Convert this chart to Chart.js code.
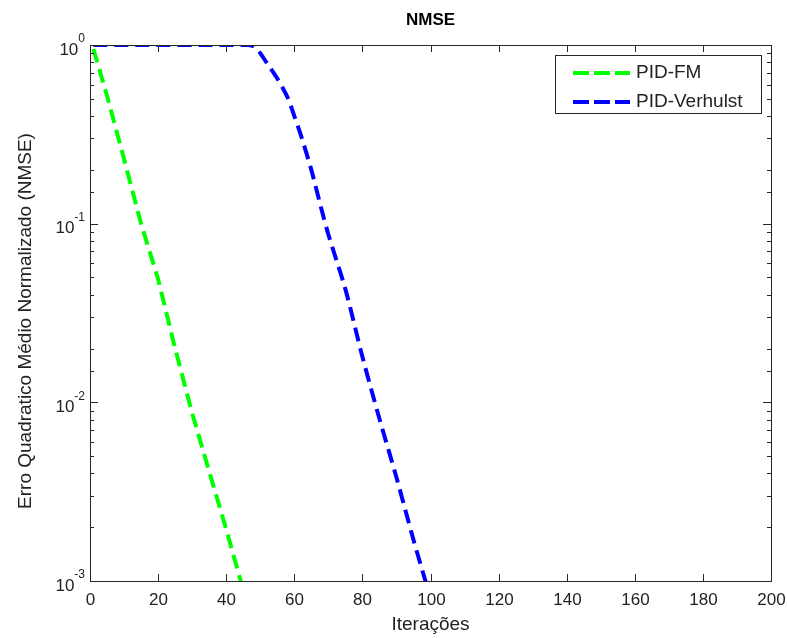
<!DOCTYPE html>
<html>
<head>
<meta charset="utf-8">
<script src="https://cdn.jsdelivr.net/npm/chart.js@4.4.1/dist/chart.umd.min.js"></script>
<style>
    html, body { margin: 0; padding: 0; background: #fff; }
    #wrap { width: 787px; height: 638px; }
</style>
</head>
<body>
<div id="wrap"><canvas id="graficoNmse"></canvas></div>
<script>
// ========== DADOS ==========
const titulo = 'NMSE';
const rotuloX = 'Iterações';
const rotuloY = 'Erro Quadratico Médio Normalizado (NMSE)';
const ticksX = [0, 20, 40, 60, 80, 100, 120, 140, 160, 180, 200];
const expoentesY = [0, -1, -2, -3];

const nomesSeries = ['PID-FM', 'PID-Verhulst'];
const coresSeries = ['#00ff00', '#0000ff'];

const iterFM = [1, 5, 10, 15, 20, 25, 30, 35, 40, 45];
const nmseFM = [0.95, 0.52, 0.23, 0.10, 0.049, 0.020, 0.0087, 0.0041, 0.00195, 0.00089];

const iterVerhulst = [1, 46, 48, 49, 50, 52, 55, 58, 60, 62, 65, 68, 70, 75, 80, 85, 90, 95, 99];
const nmseVerhulst = [1, 1, 0.985, 0.95, 0.90, 0.79, 0.65, 0.51, 0.40, 0.31, 0.20, 0.12, 0.087, 0.043, 0.018, 0.0081, 0.0038, 0.0017, 0.00093];

const fonte = '"Liberation Sans", Arial, sans-serif';
const corEixo = '#262626';

function pontos(xs, ys) {
    return xs.map((x, i) => ({ x: x, y: ys[i] }));
}

// ========== EIXOS, TEXTOS E LEGENDA ==========
const pluginMatlab = {
    id: 'matlab',
    afterDraw(chart) {
        const ctx = chart.ctx;
        const area = chart.chartArea;
        const sx = chart.scales.x;
        const sy = chart.scales.y;

        ctx.save();
        ctx.strokeStyle = corEixo;
        ctx.lineWidth = 1;
        ctx.strokeRect(area.left + 0.5, area.top + 0.5, area.right - area.left, area.bottom - area.top);

        // ticks do eixo x (para dentro, em cima e embaixo)
        ctx.fillStyle = '#222';
        ctx.font = '17px ' + fonte;
        ctx.textAlign = 'center';
        ctx.textBaseline = 'middle';
        ticksX.forEach(v => {
            const px = Math.round(sx.getPixelForValue(v)) + 0.5;
            ctx.beginPath();
            ctx.moveTo(px, area.bottom);
            ctx.lineTo(px, area.bottom - 7);
            ctx.moveTo(px, area.top);
            ctx.lineTo(px, area.top + 7);
            ctx.stroke();
            ctx.fillText(String(v), px, area.bottom + 19);
        });

        // ticks do eixo y (log, com menores)
        sy.ticks.forEach(t => {
            const lg = Math.log10(t.value);
            const maior = Math.abs(lg - Math.round(lg)) < 1e-9;
            const len = maior ? 8 : 4;
            const py = Math.round(sy.getPixelForValue(t.value)) + 0.5;
            ctx.beginPath();
            ctx.moveTo(area.left, py);
            ctx.lineTo(area.left + len, py);
            ctx.moveTo(area.right, py);
            ctx.lineTo(area.right - len, py);
            ctx.stroke();
        });

        // rótulos 10^n
        expoentesY.forEach(e => {
            const py = sy.getPixelForValue(Math.pow(10, e));
            const sup = String(e);
            ctx.font = '12px ' + fonte;
            const wSup = ctx.measureText(sup).width;
            ctx.font = '17px ' + fonte;
            const wBase = ctx.measureText('10').width;
            const direita = area.left - 5;
            ctx.textAlign = 'left';
            ctx.fillText('10', direita - wSup - wBase, py + 5);
            ctx.font = '12px ' + fonte;
            ctx.fillText(sup, direita - wSup, py - 6);
        });

        // título e rótulos dos eixos
        const cx = (area.left + area.right) / 2;
        const cy = (area.top + area.bottom) / 2;
        ctx.textAlign = 'center';
        ctx.fillStyle = '#000';
        ctx.font = 'bold 17px ' + fonte;
        ctx.fillText(titulo, cx, 20);
        ctx.fillStyle = '#222';
        ctx.font = '19px ' + fonte;
        ctx.fillText(rotuloX, cx, area.bottom + 44);
        ctx.save();
        ctx.translate(26, cy + 8);
        ctx.rotate(-Math.PI / 2);
        ctx.fillText(rotuloY, 0, 0);
        ctx.restore();

        // legenda
        const lx = 555, ly = 55, lw = 206, lh = 58;
        ctx.fillStyle = '#fff';
        ctx.fillRect(lx, ly, lw, lh);
        ctx.strokeStyle = corEixo;
        ctx.strokeRect(lx + 0.5, ly + 0.5, lw, lh);
        ctx.font = '19px ' + fonte;
        ctx.textAlign = 'left';
        chart.data.datasets.forEach((ds, i) => {
            const y = ly + 18 + i * 29;
            ctx.strokeStyle = ds.borderColor;
            ctx.lineWidth = 4;
            ctx.setLineDash([16, 5]);
            ctx.beginPath();
            ctx.moveTo(lx + 18, y);
            ctx.lineTo(lx + 75, y);
            ctx.stroke();
            ctx.setLineDash([]);
            ctx.fillStyle = '#222';
            ctx.fillText(ds.label, lx + 81, y);
        });
        ctx.restore();
    }
};

// ========== GRÁFICO ==========
const ctxNmse = document.getElementById('graficoNmse').getContext('2d');
const graficoNmse = new Chart(ctxNmse, {
    type: 'line',
    data: {
        datasets: [
            {
                label: nomesSeries[0],
                data: pontos(iterFM, nmseFM),
                borderColor: coresSeries[0],
                borderWidth: 4,
                borderDash: [14, 7],
                pointRadius: 0,
                fill: false,
                tension: 0
            },
            {
                label: nomesSeries[1],
                data: pontos(iterVerhulst, nmseVerhulst),
                borderColor: coresSeries[1],
                borderWidth: 4,
                borderDash: [14, 7],
                pointRadius: 0,
                fill: false,
                tension: 0.3
            }
        ]
    },
    options: {
        responsive: true,
        maintainAspectRatio: false,
        animation: false,
        layout: { padding: { left: 90, right: 16, top: 45, bottom: 57 } },
        plugins: {
            legend: { display: false },
            title: { display: false },
            tooltip: { enabled: false }
        },
        scales: {
            x: { type: 'linear', min: 0, max: 200, display: false },
            y: { type: 'logarithmic', min: 0.001, max: 1, display: false }
        }
    },
    plugins: [pluginMatlab]
});
</script>
</body>
</html>
